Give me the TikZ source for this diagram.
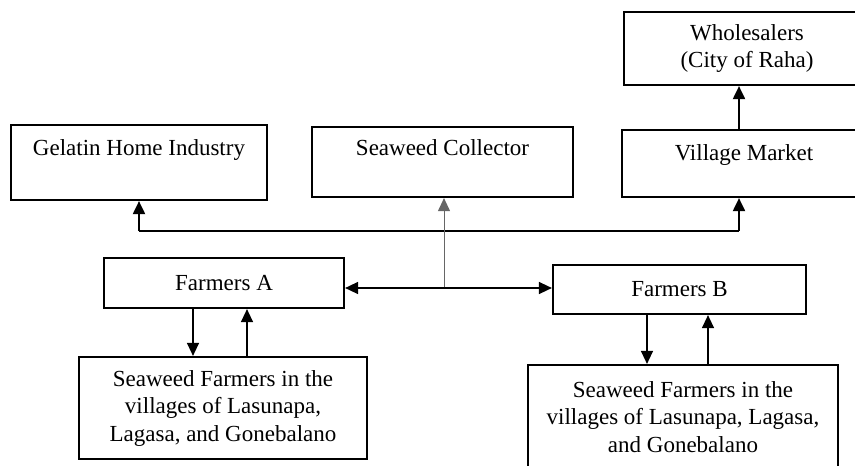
\documentclass[tikz,border=0pt]{standalone}
\usepackage{fontspec}
\setmainfont{Liberation Serif}
\usetikzlibrary{arrows.meta}
\begin{document}
\begin{tikzpicture}[x=1pt,y=-1pt,
  box/.style={draw, line width=2.2pt, inner sep=0pt, align=center},
  lbl/.style={anchor=base, align=center, font=\fontsize{23}{27}\selectfont},
  txt/.style={font=\fontsize{23}{27.5}\selectfont},
  tip/.style={-{Triangle[length=13pt,width=12pt]}},
  main/.style={line width=2pt, tip},
  thin/.style={line width=1.3pt, tip}]
\useasboundingbox (0,0) rectangle (855,466);
\clip (0,0) rectangle (855,466);
% boxes
\node[box, minimum width=256pt, minimum height=75pt,
  label={[lbl, yshift=-32pt]north:Gelatin Home Industry}] (gel) at (139,162.5) {};
\node[box, minimum width=261pt, minimum height=70pt,
  label={[lbl, yshift=-30pt]north:Seaweed Collector}] (col) at (442.5,162) {};
\node[box, minimum width=244pt, minimum height=67pt,
  label={[lbl, yshift=-32pt]north:Village Market}] (vm) at (744,163.5) {};
\node[box, txt, minimum width=246pt, minimum height=73pt] (wh) at (747,48.5)
  {Wholesalers\\(City of Raha)};
\node[box, txt, minimum width=240pt, minimum height=50pt] (fa) at (224,283) {Farmers A};
\node[box, txt, minimum width=253pt, minimum height=49pt] (fb) at (679.5,289.5) {Farmers B};
\node[box, txt, minimum width=288pt, minimum height=102pt] (sfa) at (223,408)
  {Seaweed Farmers in the\\villages of Lasunapa,\\Lagasa, and Gonebalano};
\node[box, txt, minimum width=310pt, minimum height=104pt] (sfb) at (683,417)
  {Seaweed Farmers in the\\villages of Lasunapa, Lagasa,\\and Gonebalano};
% junctions
\coordinate (jl) at (139,231);
\coordinate (jr) at (739,231);
\coordinate (jc) at (444,288);
\coordinate (a1) at (193,0);
\coordinate (a2) at (247,0);
\coordinate (b1) at (647,0);
\coordinate (b2) at (708,0);
% connectors
\draw[line width=2pt] (jl) -- (jr);
\draw[main] (jl) -- (gel.south -| jl);
\draw[main] (jr) -- (vm.south -| jr);
\draw[main] (vm.north -| jr) -- (wh.south -| jr);
\draw[gray!80!black, line width=1pt, tip] (jc) -- (col.south -| jc);
\draw[line width=1.5pt, {Triangle[length=13pt,width=12pt]}-{Triangle[length=13pt,width=12pt]}]
  (fa.east |- jc) -- (fb.west |- jc);
\draw[thin] (fa.south -| a1) -- (sfa.north -| a1);
\draw[thin] (sfa.north -| a2) -- (fa.south -| a2);
\draw[thin] (fb.south -| b1) -- (sfb.north -| b1);
\draw[thin] (sfb.north -| b2) -- (fb.south -| b2);
\end{tikzpicture}
\end{document}
